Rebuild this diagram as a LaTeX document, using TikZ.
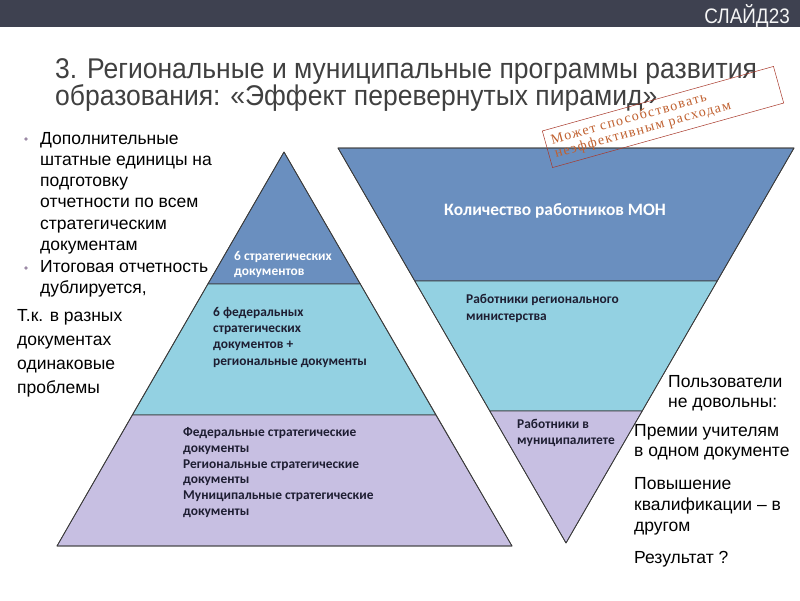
\documentclass[tikz,border=0pt]{standalone}
\usepackage{fontspec}
\setmainfont{Liberation Sans}
\newfontfamily\calib{Carlito}
\newfontfamily\narrow{Liberation Sans}[FakeStretch=0.9]
\newfontfamily\titlef{Liberation Sans}[FakeStretch=0.93]
\newfontfamily\stampf{Liberation Serif}[LetterSpace=10]
\usetikzlibrary{positioning}
\definecolor{bardark}{HTML}{3E4150}
\definecolor{titlegray}{HTML}{404040}
\definecolor{topblue}{HTML}{6A8FBF}
\definecolor{midblue}{HTML}{93D1E2}
\definecolor{lowlav}{HTML}{C7BFE2}
\definecolor{edgegray}{HTML}{3A3A3A}
\definecolor{stampred}{HTML}{A8382A}
\definecolor{stampink}{HTML}{C0602F}
\definecolor{dotgray}{HTML}{9C8AA6}
\definecolor{inktext}{HTML}{1E1E32}

\begin{document}
\begin{tikzpicture}[x=1pt, y=-1pt,
        band/.style={draw=edgegray, line width=0.7pt, line join=round},
        sidetxt/.style={anchor=north west, inner sep=0pt, align=left, text=black, font=\fontsize{17.5}{21.2}\selectfont},
        pyrtxt/.style={anchor=north west, inner sep=0pt, align=left, text=inktext, font=\calib\bfseries\fontsize{13.4}{16}\selectfont},
        pyrwhite/.style={pyrtxt, text=white},
        bulletdot/.style={circle, fill=dotgray, inner sep=0pt, minimum size=3.6pt}
    ]
        \useasboundingbox (0,0) rectangle (800,600);
        \fill[white] (0,0) rectangle (800,600);
        \fill[bardark] (0,0) rectangle (800,27);
        \node[anchor=base east, inner sep=0pt, text=white!92!gray, font=\narrow\fontsize{21}{21}\selectfont] (slide) at (790,23) {СЛАЙД23};

        \node[anchor=north west, inner sep=0pt, align=left, text=titlegray, font=\titlef\fontsize{28.5}{27}\selectfont] (title) at (55,58)
            {3. Региональные и муниципальные программы развития\\образования: «Эффект перевернутых пирамид»};

        % left pyramid
        \fill[band, fill=topblue] (284,152) -- (360.2,284) -- (207.8,284) -- cycle;
        \fill[band, fill=midblue] (207.8,284) -- (360.2,284) -- (435.8,415) -- (132.2,415) -- cycle;
        \fill[band, fill=lowlav] (132.2,415) -- (435.8,415) -- (512,546) -- (57,546) -- cycle;
        \draw[band] (284,152) -- (512,546) -- (57,546) -- cycle;

        % inverted pyramid
        \fill[band, fill=topblue] (338,148) -- (794,148) -- (717.2,281) -- (414.8,281) -- cycle;
        \fill[band, fill=midblue] (414.8,281) -- (717.2,281) -- (642.2,411) -- (489.8,411) -- cycle;
        \fill[band, fill=lowlav] (489.8,411) -- (642.2,411) -- (566,543) -- cycle;
        \draw[band] (338,148) -- (794,148) -- (566,543) -- cycle;

        \node[pyrwhite, font=\calib\bfseries\fontsize{13.4}{15}\selectfont] (strat) at (234,251) {6 стратегических\\документов};
        \node[pyrtxt, font=\calib\bfseries\fontsize{13.4}{16.3}\selectfont] (fedreg) at (213,307) {6 федеральных\\стратегических\\документов +\\региональные документы};
        \node[pyrtxt, font=\calib\bfseries\fontsize{13.4}{15.9}\selectfont] (alldocs) at (183,427) {Федеральные стратегические\\документы\\Региональные стратегические\\документы\\Муниципальные стратегические\\документы};
        \node[pyrwhite, anchor=center, font=\calib\bfseries\fontsize{17.4}{18}\selectfont] (mon) at (555,211) {Количество работников МОН};
        \node[pyrtxt, font=\calib\bfseries\fontsize{13.4}{17}\selectfont] (regmin) at (466,294) {Работники регионального\\министерства};
        \node[pyrtxt] (munic) at (517,419) {Работники в\\муниципалитете};

        % left notes
        \node[bulletdot] (dot1) at (26,139) {};
        \node[sidetxt] (extra) at (40,132) {Дополнительные\\штатные единицы на\\подготовку\\отчетности по всем\\стратегическим\\документам};
        \node[bulletdot] (dot2) at (26,268) {};
        \node[sidetxt] (dupl) at (40,260) {Итоговая отчетность\\дублируется,};
        \node[sidetxt, font=\fontsize{17.5}{24}\selectfont] (same) at (17,309) {Т.к. в разных\\документах\\одинаковые\\проблемы};

        % right notes
        \node[sidetxt, font=\fontsize{17.5}{20}\selectfont] (users) at (668,375) {Пользователи\\не довольны:};
        \node[sidetxt, font=\fontsize{17.5}{20}\selectfont] (bonus) at (634,424) {Премии учителям\\в одном документе};
        \node[sidetxt] (qual) at (634,477) {Повышение\\квалификации – в\\другом};
        \node[sidetxt] (result) at (634,551) {Результат ?};

        \node[draw=stampred, line width=0.5pt, rotate=15.6, text=stampink, align=left, inner xsep=6pt, inner ysep=3pt,
              text width=228pt, minimum height=38pt, font=\stampf\fontsize{14}{14}\selectfont] (stamp) at (663,117)
            {Может способствовать\\неэффективным расходам};
    \end{tikzpicture}
\end{document}
